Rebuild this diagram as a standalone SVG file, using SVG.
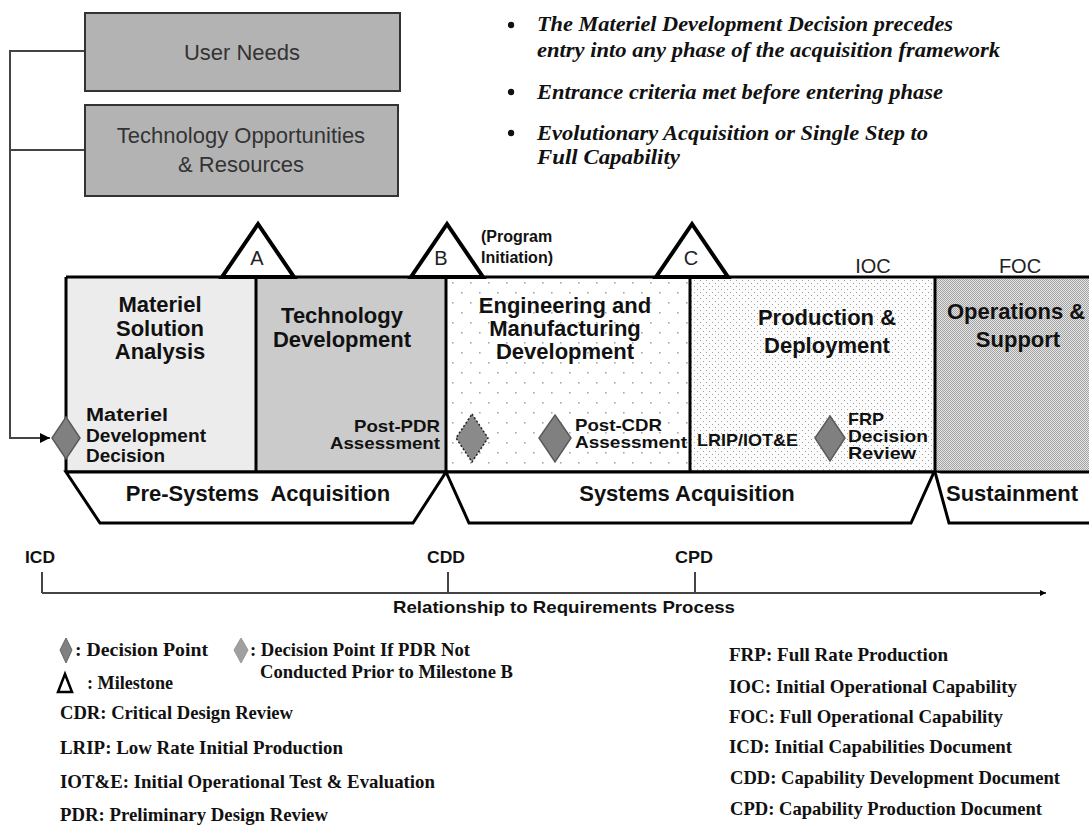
<svg xmlns="http://www.w3.org/2000/svg" width="1089" height="828" viewBox="0 0 1089 828">
<style>
.ubox{fill:#b3b3b3;stroke:#333;stroke-width:2}
.utxt{font-family:"Liberation Sans",Arial,sans-serif;font-size:22px;fill:#333;text-anchor:middle}
.bul{font-family:"Liberation Serif","Times New Roman",serif;font-weight:bold;font-style:italic;font-size:21px;fill:#111}
.ph{font-family:"Liberation Sans",Arial,sans-serif;font-weight:bold;font-size:22px;fill:#111;text-anchor:middle}
.phs{font-family:"Liberation Sans",Arial,sans-serif;font-weight:bold;font-size:22px;fill:#111;text-anchor:start}
.sm{font-family:"Liberation Sans",Arial,sans-serif;font-weight:bold;font-size:17px;fill:#111}
.smr{font-family:"Liberation Sans",Arial,sans-serif;font-weight:bold;font-size:17px;fill:#111;text-anchor:end}
.pi{font-family:"Liberation Sans",Arial,sans-serif;font-weight:bold;font-size:16px;fill:#111}
.lt{font-family:"Liberation Sans",Arial,sans-serif;font-size:20px;fill:#222;text-anchor:middle}
.ms{fill:#fff;stroke:#000;stroke-width:4;stroke-linejoin:miter}
.frame{stroke:#000;stroke-width:3}
.band{fill:#fff;stroke:#000;stroke-width:3;stroke-linejoin:miter}
.dia{fill:#808080;stroke:#5a5a5a;stroke-width:1.5}
.lg{font-family:"Liberation Serif","Times New Roman",serif;font-weight:bold;font-size:19px;fill:#111}
.req{font-family:"Liberation Sans",Arial,sans-serif;font-weight:bold;font-size:17px;fill:#111}
.conn{fill:none;stroke:#444;stroke-width:2}
.tl{fill:none;stroke:#444;stroke-width:2}
</style>
<defs>
<pattern id="dotsEMD" width="18" height="20" patternUnits="userSpaceOnUse">
<rect width="18" height="20" fill="#fff"/>
<rect x="2" y="2" width="1.6" height="1.6" fill="#a8a8a8"/>
<rect x="11" y="12" width="1.6" height="1.6" fill="#a8a8a8"/>
</pattern>
<pattern id="dotsPD" width="6" height="6" patternUnits="userSpaceOnUse">
<rect width="6" height="6" fill="#fcfcfc"/>
<rect x="1" y="1" width="1" height="1" fill="#a0a0a0"/>
<rect x="4" y="4" width="1" height="1" fill="#a0a0a0"/>
</pattern>
<pattern id="checkOS" width="2" height="2" patternUnits="userSpaceOnUse">
<rect width="2" height="2" fill="#e4e4e4"/>
<rect width="1" height="1" fill="#a4a4a4"/>
<rect x="1" y="1" width="1" height="1" fill="#a4a4a4"/>
</pattern>
<marker id="arr" viewBox="0 0 10 10" refX="10" refY="5" markerWidth="6" markerHeight="6" markerUnits="userSpaceOnUse" orient="auto">
<path d="M0,0 L10,5 L0,10 Z" fill="#000"/>
</marker>
<marker id="arrBig" viewBox="0 0 10 10" refX="10" refY="5" markerWidth="12" markerHeight="10" markerUnits="userSpaceOnUse" orient="auto">
<path d="M0,0 L10,5 L0,10 Z" fill="#000"/>
</marker>
</defs>
<rect width="1089" height="828" fill="#fff"/>

<g id="connectors">
<path class="conn" d="M85,51 H10 V438 H50" marker-end="url(#arrBig)"/>
<path class="conn" d="M85,150 H10"/>
</g>

<g id="user-needs">
<rect class="ubox" x="85" y="13" width="315" height="78"/>
<text class="utxt" x="242" y="60">User Needs</text>
</g>
<g id="tech-opportunities">
<rect class="ubox" x="85" y="105" width="313" height="91"/>
<text class="utxt" x="241" y="143">Technology Opportunities</text>
<text class="utxt" x="241" y="172">&amp; Resources</text>
</g>

<g id="bullets">
<circle cx="511" cy="25" r="3.2" fill="#111"/>
<circle cx="511" cy="92" r="3.2" fill="#111"/>
<circle cx="511" cy="133" r="3.2" fill="#111"/>
<text class="bul" x="537" y="31" textLength="416" lengthAdjust="spacingAndGlyphs">The Materiel Development Decision precedes</text>
<text class="bul" x="537" y="57" textLength="463" lengthAdjust="spacingAndGlyphs">entry into any phase of the acquisition framework</text>
<text class="bul" x="537" y="99" textLength="406" lengthAdjust="spacingAndGlyphs">Entrance criteria met before entering phase</text>
<text class="bul" x="537" y="140" textLength="391" lengthAdjust="spacingAndGlyphs">Evolutionary Acquisition or Single Step to</text>
<text class="bul" x="537" y="164" textLength="143" lengthAdjust="spacingAndGlyphs">Full Capability</text>
</g>

<g id="phase-msa">
<rect x="66" y="277" width="190" height="195" fill="#ececec"/>
<text class="ph" x="160" y="312">Materiel</text>
<text class="ph" x="160" y="336">Solution</text>
<text class="ph" x="160" y="359">Analysis</text>
</g>
<g id="phase-td">
<rect x="256" y="277" width="190" height="195" fill="#cbcbcb"/>
<text class="ph" x="342" y="323">Technology</text>
<text class="ph" x="342" y="347">Development</text>
<text class="smr" x="440" y="432" textLength="86" lengthAdjust="spacingAndGlyphs">Post-PDR</text>
<text class="smr" x="440" y="449" textLength="110" lengthAdjust="spacingAndGlyphs">Assessment</text>
</g>
<g id="phase-emd">
<rect x="446" y="277" width="244" height="195" fill="url(#dotsEMD)"/>
<text class="ph" x="565" y="313">Engineering and</text>
<text class="ph" x="565" y="336">Manufacturing</text>
<text class="ph" x="565" y="359">Development</text>
</g>
<g id="phase-pd">
<rect x="690" y="277" width="245" height="195" fill="url(#dotsPD)"/>
<text class="ph" x="827" y="325">Production &amp;</text>
<text class="ph" x="827" y="353">Deployment</text>
<text class="sm" x="697" y="446" textLength="101" lengthAdjust="spacingAndGlyphs">LRIP/IOT&amp;E</text>
</g>
<g id="phase-os">
<rect x="935" y="277" width="160" height="195" fill="url(#checkOS)"/>
<text class="phs" x="947" y="319">Operations &amp;</text>
<text class="ph" x="1018" y="347">Support</text>
</g>

<g id="frame">
<line class="frame" x1="66" y1="277" x2="1089" y2="277"/>
<line class="frame" x1="66" y1="472" x2="1089" y2="472"/>
<line class="frame" x1="66" y1="277" x2="66" y2="472"/>
<line class="frame" x1="256" y1="277" x2="256" y2="472"/>
<line class="frame" x1="446" y1="277" x2="446" y2="472"/>
<line class="frame" x1="690" y1="277" x2="690" y2="472"/>
<line class="frame" x1="935" y1="277" x2="935" y2="472"/>
</g>

<g id="milestone-a">
<polygon class="ms" points="258,224 222,277 294,277"/>
<text class="lt" x="257" y="265">A</text>
</g>
<g id="milestone-b">
<polygon class="ms" points="447,224 411,277 483,277"/>
<text class="lt" x="441" y="265">B</text>
<text class="pi" x="481" y="242">(Program</text>
<text class="pi" x="481" y="263">Initiation)</text>
</g>
<g id="milestone-c">
<polygon class="ms" points="692,224 656,277 728,277"/>
<text class="lt" x="691" y="265">C</text>
</g>
<g id="ioc">
<text class="lt" x="873" y="273">IOC</text>
</g>
<g id="foc">
<text class="lt" x="1020" y="273">FOC</text>
</g>

<g id="mdd">
<polygon class="dia" points="66,417 80,438 66,459 52,438"/>
<text class="sm" x="86" y="421" style="font-size:18px" textLength="82" lengthAdjust="spacingAndGlyphs">Materiel</text>
<text class="sm" x="86" y="442" style="font-size:18px" textLength="120" lengthAdjust="spacingAndGlyphs">Development</text>
<text class="sm" x="86" y="462" style="font-size:18px" textLength="79" lengthAdjust="spacingAndGlyphs">Decision</text>
</g>
<g id="pdr-decision">
<polygon points="472,414 488,438 472,462 456,438" fill="#8a8a8a" stroke="#222" stroke-width="1.5" stroke-dasharray="2,2"/>
</g>
<g id="post-cdr">
<polygon class="dia" points="555,415 571,438 555,462 539,438"/>
<text class="sm" x="575" y="431" textLength="87" lengthAdjust="spacingAndGlyphs">Post-CDR</text>
<text class="sm" x="575" y="448" textLength="112" lengthAdjust="spacingAndGlyphs">Assessment</text>
</g>
<g id="frp">
<polygon class="dia" points="830,416 845,438 830,461 815,438"/>
<text class="sm" x="848" y="425" textLength="36" lengthAdjust="spacingAndGlyphs">FRP</text>
<text class="sm" x="848" y="442" textLength="80" lengthAdjust="spacingAndGlyphs">Decision</text>
<text class="sm" x="848" y="459" textLength="68" lengthAdjust="spacingAndGlyphs">Review</text>
</g>

<g id="band-pre">
<polygon class="band" points="66,472 100,523 413,523 446,472"/>
<text class="ph" x="258" y="501" xml:space="preserve">Pre-Systems  Acquisition</text>
</g>
<g id="band-sys">
<polygon class="band" points="446,472 469,523 911,523 934,472"/>
<text class="ph" x="687" y="501">Systems Acquisition</text>
</g>
<g id="band-sus">
<polyline class="band" points="935,472 949,523 1095,523"/>
<text class="phs" x="946" y="501">Sustainment</text>
</g>

<g id="requirements">
<line class="tl" x1="42" y1="593" x2="1046" y2="593" marker-end="url(#arr)"/>
<line class="tl" x1="42" y1="572" x2="42" y2="593"/>
<line class="tl" x1="448" y1="572" x2="448" y2="593"/>
<line class="tl" x1="695" y1="572" x2="695" y2="593"/>
<text class="req" x="25" y="563" textLength="30" lengthAdjust="spacingAndGlyphs">ICD</text>
<text class="req" x="427" y="563" textLength="38" lengthAdjust="spacingAndGlyphs">CDD</text>
<text class="req" x="675" y="563" textLength="38" lengthAdjust="spacingAndGlyphs">CPD</text>
<text class="req" x="393" y="613" textLength="342" lengthAdjust="spacingAndGlyphs">Relationship to Requirements Process</text>
</g>

<g id="legend-left">
<polygon points="66,638 72,650 66,663 60,650" fill="#808080" stroke="#666" stroke-width="1"/>
<text class="lg" x="75" y="656" textLength="133" lengthAdjust="spacingAndGlyphs">: Decision Point</text>
<polygon points="241,638 248,650 241,663 234,650" fill="#a0a0a0" stroke="#999" stroke-width="1"/>
<text class="lg" x="250" y="656" textLength="220" lengthAdjust="spacingAndGlyphs">: Decision Point If PDR Not</text>
<text class="lg" x="260" y="678" textLength="253" lengthAdjust="spacingAndGlyphs">Conducted Prior to Milestone B</text>
<polygon points="65,674 58,692 72,692" fill="#fff" stroke="#000" stroke-width="2.5"/>
<text class="lg" x="87" y="689" textLength="86" lengthAdjust="spacingAndGlyphs">: Milestone</text>
<text class="lg" x="60" y="719" textLength="233" lengthAdjust="spacingAndGlyphs">CDR: Critical Design Review</text>
<text class="lg" x="60" y="754" textLength="283" lengthAdjust="spacingAndGlyphs">LRIP: Low Rate Initial Production</text>
<text class="lg" x="60" y="788" textLength="375" lengthAdjust="spacingAndGlyphs">IOT&amp;E: Initial Operational Test &amp; Evaluation</text>
<text class="lg" x="60" y="821" textLength="268" lengthAdjust="spacingAndGlyphs">PDR: Preliminary Design Review</text>
</g>

<g id="legend-right">
<text class="lg" x="729" y="661" textLength="219" lengthAdjust="spacingAndGlyphs">FRP: Full Rate Production</text>
<text class="lg" x="729" y="693" textLength="288" lengthAdjust="spacingAndGlyphs">IOC: Initial Operational Capability</text>
<text class="lg" x="729" y="723" textLength="274" lengthAdjust="spacingAndGlyphs">FOC: Full Operational Capability</text>
<text class="lg" x="729" y="753" textLength="283" lengthAdjust="spacingAndGlyphs">ICD: Initial Capabilities Document</text>
<text class="lg" x="730" y="784" textLength="330" lengthAdjust="spacingAndGlyphs">CDD: Capability Development Document</text>
<text class="lg" x="730" y="815" textLength="312" lengthAdjust="spacingAndGlyphs">CPD: Capability Production Document</text>
</g>
</svg>
